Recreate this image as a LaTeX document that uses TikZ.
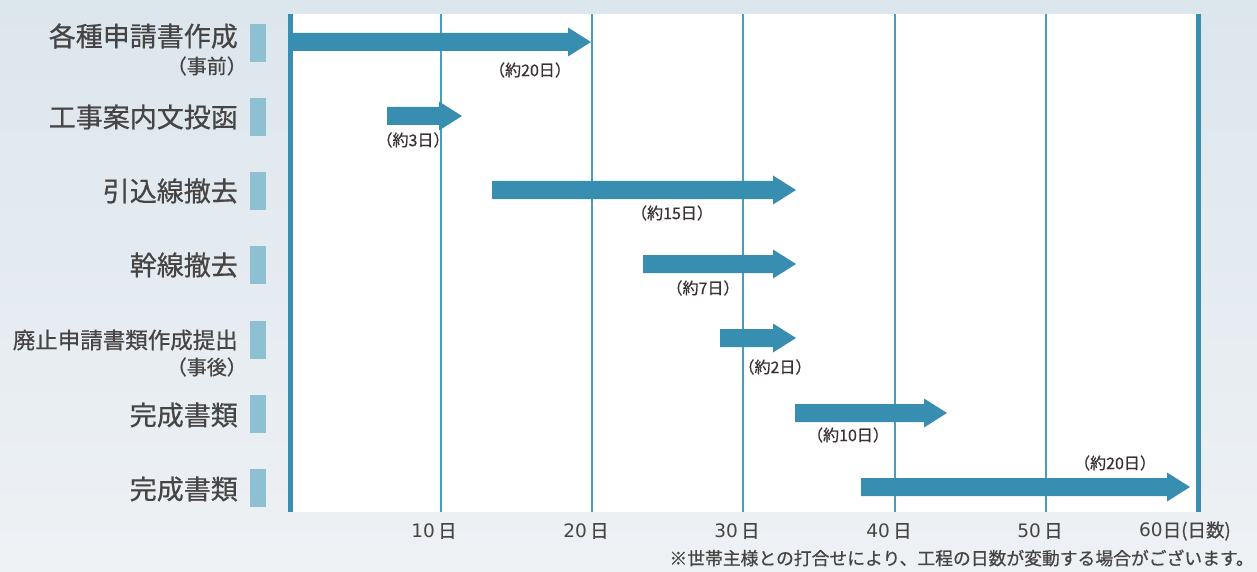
\documentclass[tikz,border=0pt]{standalone}
\usepackage{fontspec}
\setmainfont{Noto Sans CJK JP}[FakeBold=0.6]
\newfontfamily\digfont{DejaVu Sans}
\definecolor{barc}{RGB}{56,142,176}
\definecolor{linec}{RGB}{72,156,192}
\definecolor{rectc}{RGB}{142,192,212}
\definecolor{textc}{RGB}{70,68,68}
\definecolor{labc}{RGB}{58,50,50}
\definecolor{bgtop}{RGB}{220,230,237}
\definecolor{bgbot}{RGB}{238,241,244}
\newcommand\gbar[4]{%
  \coordinate (#1s) at (#2,#4);
  \coordinate (#1e) at (#3,#4);
  \fill[barc] (#2,#4-9) -- (#3-23,#4-9) -- (#3-23,#4-14.5) -- (#3,#4) -- (#3-23,#4+14.5) -- (#3-23,#4+9) -- (#2,#4+9) -- cycle;}
\newcommand\dg[1]{{\digfont #1}}
\begin{document}
\begin{tikzpicture}[x=1pt,y=-1pt,
  rowlab/.style={anchor=east,inner sep=0pt,text=textc,font=\fontsize{27}{27}\selectfont},
  sublab/.style={anchor=east,inner sep=0pt,text=textc,font=\fontsize{20}{20}\selectfont},
  durlab/.style={inner sep=0pt,text=labc,font=\fontsize{16}{16}\selectfont},
  axlab/.style={inner sep=0pt,text=textc,font=\fontsize{18.5}{18.5}\selectfont},
  sidebox/.style={fill=rectc},
  thinline/.style={draw=linec,line width=2pt},
  thickline/.style={draw=barc,line width=5pt}]
\useasboundingbox (0,0) rectangle (1257,572);
\shade[top color=bgtop,bottom color=bgbot] (0,0) rectangle (1257,572);
% chart area
\fill[white] (290,14) rectangle (1198,512);
\foreach \x in {441,592,743,895,1046}{
  \draw[thinline] (\x,14) -- (\x,512);
}
\draw[thickline] (290,14) -- (290,512);
\draw[thickline] (1198.5,14) -- (1198.5,512);
% side boxes
\foreach \y in {43,117,191,265,340,414,488}{
  \fill[sidebox] (250,\y-19) rectangle (266,\y+19);
}
% row labels
\node[rowlab] (r1) at (238,36) {各種申請書作成};
\node[sublab] (r1s) at (247,66) {（事前）};
\node[rowlab] (r2) at (238,117) {工事案内文投函};
\node[rowlab] (r3) at (238,191) {引込線撤去};
\node[rowlab] (r4) at (238,265) {幹線撤去};
\node[rowlab,font=\fontsize{22.5}{22.5}\selectfont] (r5) at (238,340) {廃止申請書類作成提出};
\node[sublab] (r5s) at (247,367) {（事後）};
\node[rowlab] (r6) at (238,415) {完成書類};
\node[rowlab] (r7) at (238,489) {完成書類};
% bars
\gbar{b1}{290}{591}{42}
\gbar{b2}{387}{462}{116}
\gbar{b3}{492}{796}{190}
\gbar{b4}{643}{796}{264}
\gbar{b5}{720}{796}{338}
\gbar{b6}{795}{947}{413}
\gbar{b7}{861}{1190}{487}
% durations
\node[durlab] (d1) at (530,70) {（約20日）};
\node[durlab] (d2) at (413,140) {（約3日）};
\node[durlab] (d3) at (672,213) {（約15日）};
\node[durlab] (d4) at (703,288) {（約7日）};
\node[durlab] (d5) at (775,367) {（約2日）};
\node[durlab] (d6) at (848,435) {（約10日）};
\node[durlab] (d7) at (1115,463) {（約20日）};
% axis labels
\node[axlab] (a1) at (434,531) {\dg{10}\,日};
\node[axlab] (a2) at (586,531) {\dg{20}\,日};
\node[axlab] (a3) at (737,531) {\dg{30}\,日};
\node[axlab] (a4) at (889,531) {\dg{40}\,日};
\node[axlab] (a5) at (1040,531) {\dg{50}\,日};
\node[axlab,anchor=west] (a6) at (1139,531) {\dg{60}日(日数)};
\node[inner sep=0pt,anchor=east,text=textc,font=\fontsize{17.8}{17.8}\selectfont] (note) at (1254,558) {※世帯主様との打合せにより、工程の日数が変動する場合がございます。};
\end{tikzpicture}
\end{document}
